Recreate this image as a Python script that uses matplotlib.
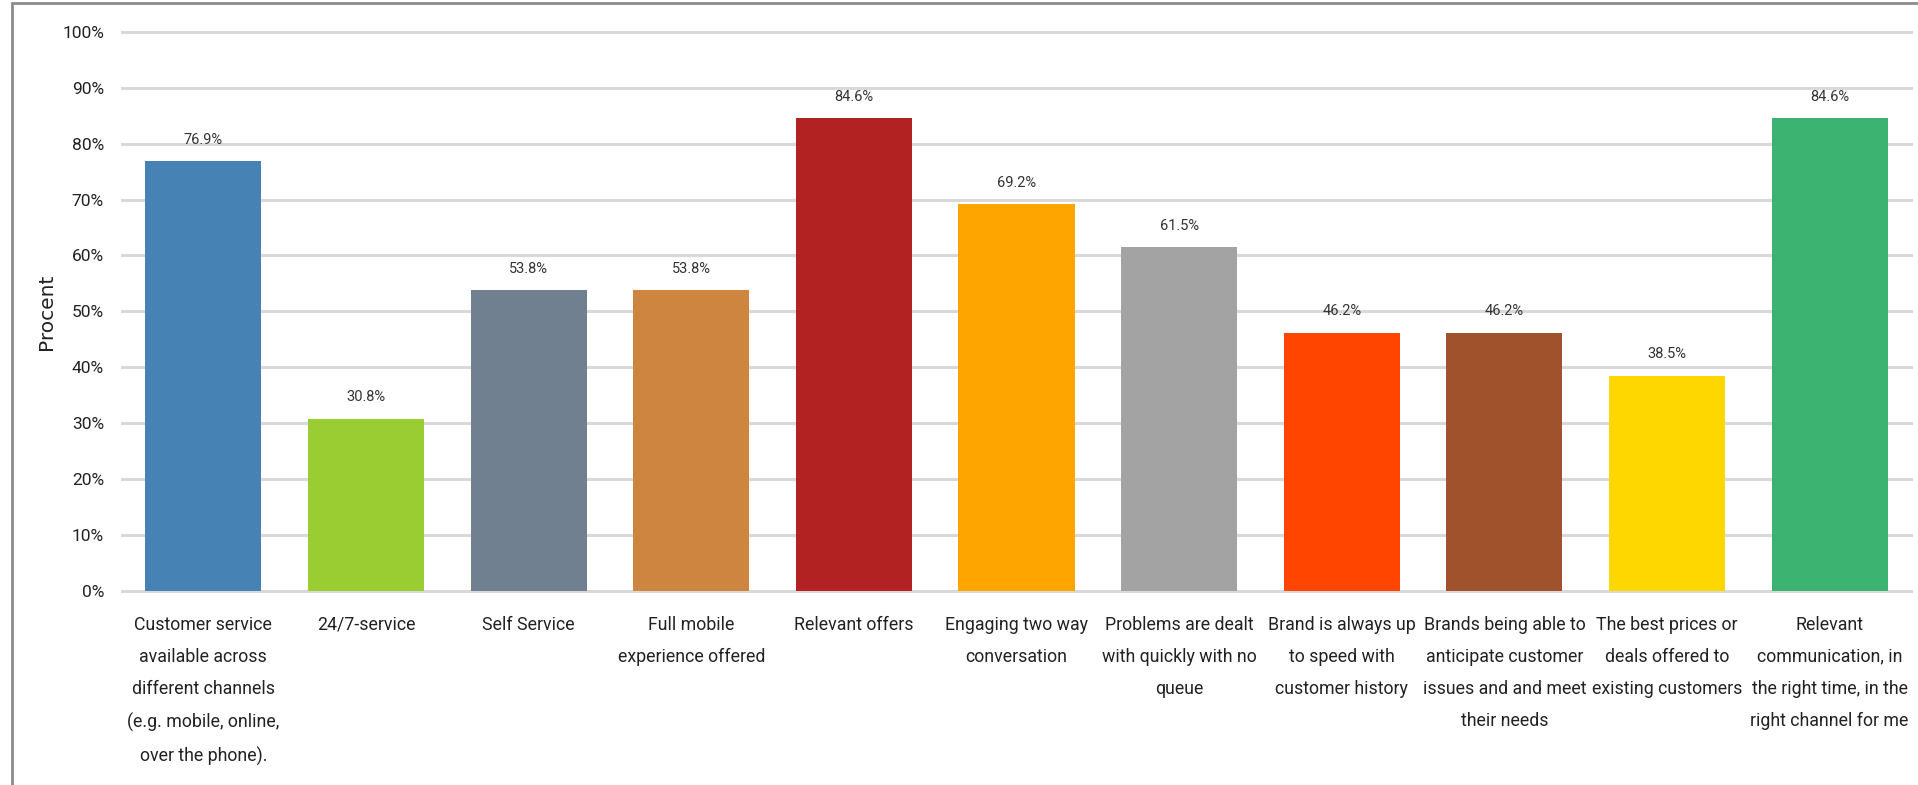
import matplotlib.pyplot as plt
from matplotlib.patches import Rectangle

# Survey answers, share of respondents per item.
categories = [
    "Customer service\navailable across\ndifferent channels\n(e.g. mobile, online,\nover the phone).",
    "24/7-service",
    "Self Service",
    "Full mobile\nexperience offered",
    "Relevant offers",
    "Engaging two way\nconversation",
    "Problems are dealt\nwith quickly with no\nqueue",
    "Brand is always up\nto speed with\ncustomer history",
    "Brands being able to\nanticipate customer\nissues and and meet\ntheir needs",
    "The best prices or\ndeals offered to\nexisting customers",
    "Relevant\ncommunication, in\nthe right time, in the\nright channel for me",
]
values = [76.9, 30.8, 53.8, 53.8, 84.6, 69.2, 61.5, 46.2, 46.2, 38.5, 84.6]
bar_colors = ['#4682B4', '#9ACD32', '#708090', '#CD853F', '#B22222', '#FFA500',
              '#A3A3A3', '#FF4500', '#A0522D', '#FFD700', '#3CB371']
yticks = list(range(0, 101, 10))

font = ['Roboto', 'DejaVu Sans']
plt.rcParams['font.family'] = font

W, H = 1918, 785
fig = plt.figure(figsize=(W / 100, H / 100), dpi=100)

# Outer chart frame (only left and top edges fall inside the image).
fig.patches.append(Rectangle((12 / W, -0.1), 1.2, (H - 3) / H + 0.1,
                             transform=fig.transFigure, fill=False,
                             edgecolor='#8c8c8c', linewidth=2))

ax_w = 1911 - 122
ax = fig.add_axes([122 / W, (H - 590.7) / H, ax_w / W, (590.7 - 32) / H])
x = range(len(values))
ax.bar(x, values, width=0.714, color=bar_colors, zorder=3)

for xi, v in zip(x, values):
    ax.text(xi, v + 3.8, f"{v:.1f}%", ha='center', va='center',
            fontsize=10.5, color='#333333')

ax.set_xlim(-0.5, len(values) - 0.5)
ax.set_ylim(0, 100)
ax.set_yticks(yticks)
ax.set_yticklabels([f"{t}%" for t in yticks], fontsize=12.5, color='#222222')
ax.set_xticks(list(x))
ax.set_xticklabels(categories, fontsize=12.8, color='#222222',
                   linespacing=2.0)
ax.tick_params(axis='both', length=0)
ax.tick_params(axis='y', pad=13)
ax.tick_params(axis='x', pad=18)

for t in yticks:
    ax.axhline(t, color='#d9d9d9', linewidth=2.2, zorder=1, clip_on=False)
for s in ax.spines.values():
    s.set_visible(False)

ax.set_ylabel("Procent", fontsize=14.5, color='#222222', family='DejaVu Sans',
              va='center')
ax.yaxis.set_label_coords((46 - 122) / ax_w, 0.5)

fig.savefig("out.png", dpi=100)
